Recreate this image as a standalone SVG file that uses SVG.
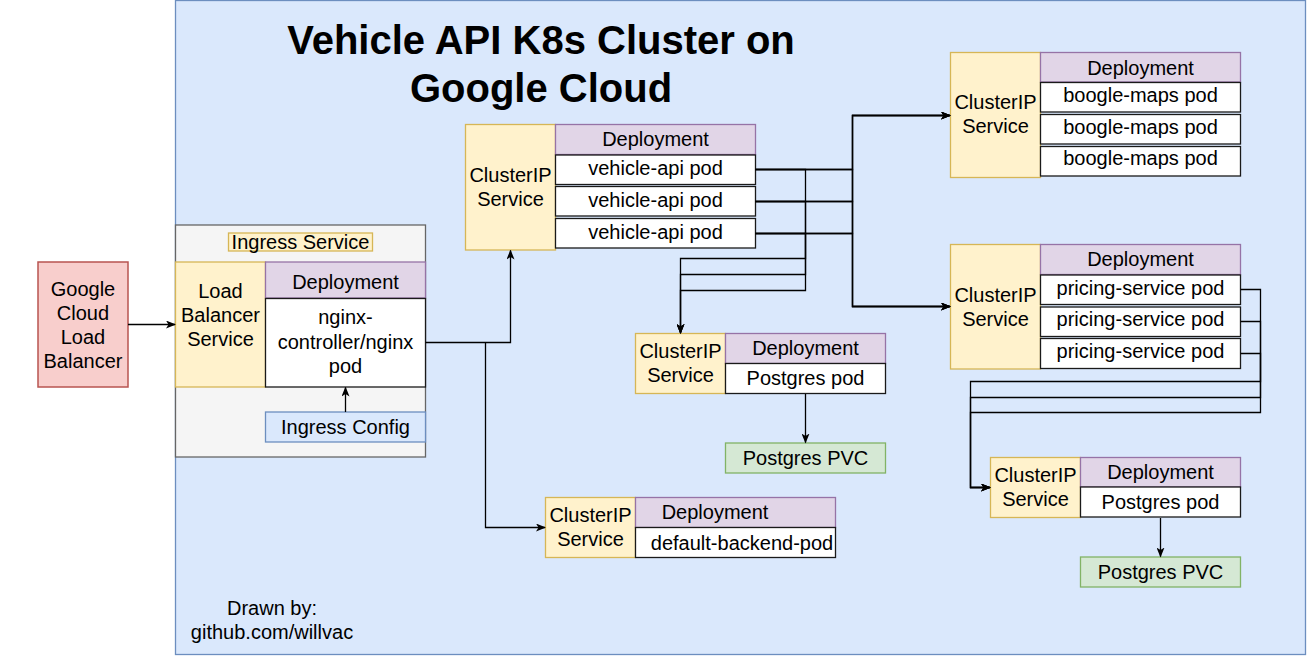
<svg xmlns="http://www.w3.org/2000/svg" width="1307" height="656" viewBox="0 0 1307 656">
<style>
text{font-family:"Liberation Sans",Arial,Helvetica,sans-serif;font-size:20px;fill:#000;text-anchor:middle}
.title{font-size:40px;font-weight:bold}
.svc{fill:#fff2cc;stroke:#d6b656;stroke-width:1.3}
.dep{fill:#e1d5e7;stroke:#9673a6;stroke-width:1.3}
.pod{fill:#ffffff;stroke:#1a1a1a;stroke-width:1.3}
.pvc{fill:#d5e8d4;stroke:#82b366;stroke-width:1.3}
.cfg{fill:#dae8fc;stroke:#6c8ebf;stroke-width:1.3}
.gclb{fill:#f8cecc;stroke:#b85450;stroke-width:1.5}
.ing{fill:#f5f5f5;stroke:#666666;stroke-width:1.3}
.conn path{fill:none;stroke:#000;stroke-width:1.3}
.arr{marker-end:url(#ah)}
</style>
<defs>
<marker id="ah" viewBox="0 0 10 8" refX="9" refY="4" markerWidth="10" markerHeight="8" markerUnits="userSpaceOnUse" orient="auto">
<path d="M0,0 L10,4 L0,8 L2.5,4 Z" fill="#000"/>
</marker>
</defs>
<rect width="1307" height="656" fill="#ffffff"/>

<g id="cluster">
<rect x="175.5" y="0.5" width="1130" height="654" fill="#dae8fc" stroke="#6c8ebf" stroke-width="1.3"/>
<text class="title" x="541" y="54">Vehicle API K8s Cluster on</text>
<text class="title" x="541" y="102">Google Cloud</text>
</g>

<g id="gclb">
<rect class="gclb" x="38" y="262" width="90" height="125"/>
<text x="83" y="296">Google</text>
<text x="83" y="320">Cloud</text>
<text x="83" y="344">Load</text>
<text x="83" y="368">Balancer</text>
</g>

<g id="ingress">
<rect class="ing" x="175.5" y="225" width="250" height="232"/>
<rect class="svc" x="228.5" y="233" width="144" height="18"/>
<text x="300.5" y="249">Ingress Service</text>
</g>

<g id="lb-service">
<rect class="svc" x="175.5" y="262" width="90" height="125"/>
<text x="220.5" y="298">Load</text>
<text x="220.5" y="322">Balancer</text>
<text x="220.5" y="346">Service</text>
</g>

<g id="nginx-deployment">
<rect class="dep" x="265.5" y="262" width="160" height="36"/>
<text x="345.5" y="289">Deployment</text>
<rect class="pod" x="265.5" y="298.5" width="160" height="88.5"/>
<text x="345.5" y="324">nginx-</text>
<text x="345.5" y="349">controller/nginx</text>
<text x="345.5" y="373">pod</text>
</g>

<g id="ingress-config">
<rect class="cfg" x="265.5" y="412" width="160" height="30"/>
<text x="345.5" y="434">Ingress Config</text>
</g>

<g id="vehicle-svc">
<rect class="svc" x="465.5" y="124.5" width="90" height="125.5"/>
<text x="510.5" y="182">ClusterIP</text>
<text x="510.5" y="206">Service</text>
</g>
<g id="vehicle-deployment">
<rect class="dep" x="555.5" y="124.5" width="200" height="30"/>
<text x="655.5" y="146">Deployment</text>
<rect class="pod" x="555.5" y="155" width="200" height="29.5"/>
<text x="655.5" y="175">vehicle-api pod</text>
<rect class="pod" x="555.5" y="186.5" width="200" height="29.5"/>
<text x="655.5" y="206.5">vehicle-api pod</text>
<rect class="pod" x="555.5" y="218.5" width="200" height="29.5"/>
<text x="655.5" y="238.5">vehicle-api pod</text>
</g>

<g id="boogle-svc">
<rect class="svc" x="950.5" y="52.5" width="90" height="125"/>
<text x="995.5" y="109">ClusterIP</text>
<text x="995.5" y="133">Service</text>
</g>
<g id="boogle-deployment">
<rect class="dep" x="1040.5" y="52.5" width="200" height="29.5"/>
<text x="1140.5" y="75">Deployment</text>
<rect class="pod" x="1040.5" y="82.5" width="200" height="29.5"/>
<text x="1140.5" y="102">boogle-maps pod</text>
<rect class="pod" x="1040.5" y="114.5" width="200" height="29.5"/>
<text x="1140.5" y="133.5">boogle-maps pod</text>
<rect class="pod" x="1040.5" y="146.5" width="200" height="29.5"/>
<text x="1140.5" y="165">boogle-maps pod</text>
</g>

<g id="pricing-svc">
<rect class="svc" x="950.5" y="244.5" width="90" height="124.5"/>
<text x="995.5" y="302">ClusterIP</text>
<text x="995.5" y="326">Service</text>
</g>
<g id="pricing-deployment">
<rect class="dep" x="1040.5" y="244.5" width="200" height="30"/>
<text x="1140.5" y="266">Deployment</text>
<rect class="pod" x="1040.5" y="275" width="200" height="29.5"/>
<text x="1140.5" y="294.5">pricing-service pod</text>
<rect class="pod" x="1040.5" y="307" width="200" height="29.5"/>
<text x="1140.5" y="326">pricing-service pod</text>
<rect class="pod" x="1040.5" y="338.5" width="200" height="30"/>
<text x="1140.5" y="358">pricing-service pod</text>
</g>

<g id="postgres1-svc">
<rect class="svc" x="635.5" y="333.5" width="90" height="60"/>
<text x="680.5" y="358">ClusterIP</text>
<text x="680.5" y="382">Service</text>
</g>
<g id="postgres1-deployment">
<rect class="dep" x="725.5" y="333.5" width="160" height="30"/>
<text x="805.5" y="355">Deployment</text>
<rect class="pod" x="725.5" y="363.5" width="160" height="30"/>
<text x="805.5" y="385">Postgres pod</text>
</g>
<g id="postgres1-pvc">
<rect class="pvc" x="725.5" y="443" width="160" height="30"/>
<text x="805.5" y="465">Postgres PVC</text>
</g>

<g id="postgres2-svc">
<rect class="svc" x="990.5" y="457.5" width="90" height="60"/>
<text x="1035.5" y="482">ClusterIP</text>
<text x="1035.5" y="506">Service</text>
</g>
<g id="postgres2-deployment">
<rect class="dep" x="1080.5" y="457.5" width="160" height="29.5"/>
<text x="1160.5" y="479">Deployment</text>
<rect class="pod" x="1080.5" y="487" width="160" height="30"/>
<text x="1160.5" y="509">Postgres pod</text>
</g>
<g id="postgres2-pvc">
<rect class="pvc" x="1080.5" y="557" width="160" height="30"/>
<text x="1160.5" y="579">Postgres PVC</text>
</g>

<g id="backend-svc">
<rect class="svc" x="545.5" y="497.5" width="90" height="60"/>
<text x="590.5" y="522">ClusterIP</text>
<text x="590.5" y="546">Service</text>
</g>
<g id="backend-deployment">
<rect class="dep" x="635.5" y="497.5" width="200" height="30"/>
<text x="715" y="519">Deployment</text>
<rect class="pod" x="635.5" y="527.5" width="200" height="30"/>
<text x="742" y="550">default-backend-pod</text>
</g>

<g id="credit">
<text x="272" y="615">Drawn by:</text>
<text x="272" y="639">github.com/willvac</text>
</g>

<g id="connectors" class="conn">
<path class="arr" d="M128,324.5 H175"/>
<path class="arr" d="M345.5,412 V387.5"/>
<path class="arr" d="M425.5,342.5 H510.5 V250.5"/>
<path class="arr" d="M485.5,342.5 V527.5 H545"/>
<path class="arr" d="M755.5,169.5 H852.5 V115.5 H950"/>
<path class="arr" d="M755.5,201.5 H852.5 V115.5 H950"/>
<path class="arr" d="M755.5,233.5 H852.5 V115.5 H950"/>
<path class="arr" d="M755.5,169.5 H852.5 V306.5 H950"/>
<path class="arr" d="M755.5,201.5 H852.5 V306.5 H950"/>
<path class="arr" d="M755.5,233.5 H852.5 V306.5 H950"/>
<path class="arr" d="M755.5,169.5 H805.5 V258.5 H680.5 V333"/>
<path class="arr" d="M755.5,201.5 H805.5 V274.5 H680.5 V333"/>
<path class="arr" d="M755.5,233.5 H805.5 V290.5 H680.5 V333"/>
<path class="arr" d="M805.5,394 V442.5"/>
<path class="arr" d="M1240.5,289.5 H1260.5 V381.5 H970.5 V487.5 H990"/>
<path class="arr" d="M1240.5,321.5 H1260.5 V397.5 H970.5 V487.5 H990"/>
<path class="arr" d="M1240.5,353.5 H1260.5 V412.5 H970.5 V487.5 H990"/>
<path class="arr" d="M1160.5,518 V556.5"/>
</g>
</svg>
